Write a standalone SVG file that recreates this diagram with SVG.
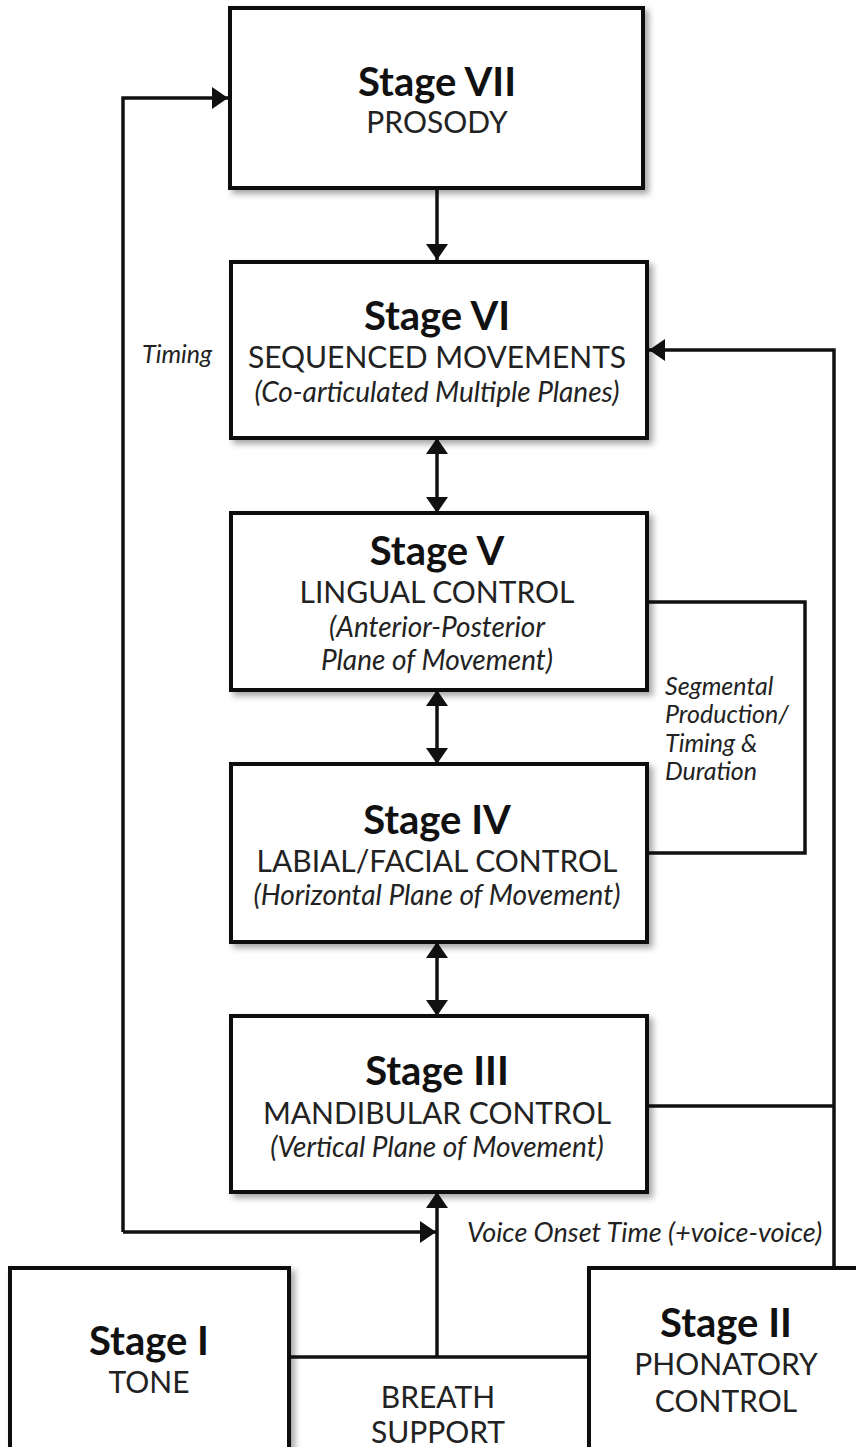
<svg xmlns="http://www.w3.org/2000/svg" width="856" height="1447" viewBox="0 0 856 1447">
<defs>
<filter id="sh" x="-10%" y="-10%" width="130%" height="130%">
<feDropShadow dx="4" dy="4" stdDeviation="3" flood-color="#000" flood-opacity="0.35"/>
</filter>
<marker id="ah" viewBox="0 0 16 22" refX="16" refY="11" markerWidth="16" markerHeight="22" markerUnits="userSpaceOnUse" orient="auto-start-reverse">
<path d="M0,0 L16,11 L0,22 Z" fill="#111"/>
</marker>
<style>
.box{fill:#fff;stroke:#111;stroke-width:4;filter:url(#sh)}
.ln{fill:none;stroke:#111;stroke-width:3.5}
text{font-family:Lato,"Open Sans",sans-serif;fill:#222;text-anchor:middle}
.t{font-weight:bold;font-size:40px;fill:#111}
.s{font-size:30px}
.i{font-size:28px;font-style:italic}
.n{font-size:25px;font-style:italic;text-anchor:start}
.v{font-size:27px;font-style:italic;text-anchor:start}
</style>
</defs>
<g id="connectors">
<path class="ln" d="M437,188 L437,260" marker-end="url(#ah)"/>
<path class="ln" d="M437,438 L437,513" marker-start="url(#ah)" marker-end="url(#ah)"/>
<path class="ln" d="M437,690 L437,764" marker-start="url(#ah)" marker-end="url(#ah)"/>
<path class="ln" d="M437,942 L437,1016" marker-start="url(#ah)" marker-end="url(#ah)"/>
<path class="ln" d="M123,1232 L123,98 L228,98" marker-end="url(#ah)"/>
<path class="ln" d="M123,1232 L436,1232" marker-end="url(#ah)"/>
<path class="ln" d="M437,1357 L437,1192" marker-end="url(#ah)"/>
<path class="ln" d="M289,1357 L589,1357"/>
<path class="ln" d="M834,1268 L834,350 L649,350" marker-end="url(#ah)"/>
<path class="ln" d="M647,1106 L834,1106"/>
<path class="ln" d="M647,602 L805,602 L805,853 L647,853"/>
<text class="n" x="142" y="363">Timing</text>
<text class="v" x="467" y="1242">Voice Onset Time (+voice-voice)</text>
<text class="n" x="665" y="695">Segmental</text>
<text class="n" x="665" y="723">Production/</text>
<text class="n" x="665" y="752">Timing &amp;</text>
<text class="n" x="665" y="780">Duration</text>
<text class="s" x="438" y="1408">BREATH</text>
<text class="s" x="438" y="1443">SUPPORT</text>
</g>
<g id="stage7">
<rect class="box" x="230" y="8" width="413" height="180"/>
<text class="t" x="437" y="96">Stage VII</text>
<text class="s" x="437" y="133">PROSODY</text>
</g>
<g id="stage6">
<rect class="box" x="231" y="262" width="416" height="176"/>
<text class="t" x="437" y="330">Stage VI</text>
<text class="s" x="437" y="368">SEQUENCED MOVEMENTS</text>
<text class="i" x="437" y="402">(Co-articulated Multiple Planes)</text>
</g>
<g id="stage5">
<rect class="box" x="231" y="513" width="416" height="177"/>
<text class="t" x="437" y="565">Stage V</text>
<text class="s" x="437" y="603">LINGUAL CONTROL</text>
<text class="i" x="437" y="637">(Anterior-Posterior</text>
<text class="i" x="437" y="670">Plane of Movement)</text>
</g>
<g id="stage4">
<rect class="box" x="231" y="764" width="416" height="178"/>
<text class="t" x="437" y="834">Stage IV</text>
<text class="s" x="437" y="872">LABIAL/FACIAL CONTROL</text>
<text class="i" x="437" y="905">(Horizontal Plane of Movement)</text>
</g>
<g id="stage3">
<rect class="box" x="231" y="1016" width="416" height="176"/>
<text class="t" x="437" y="1085">Stage III</text>
<text class="s" x="437" y="1124">MANDIBULAR CONTROL</text>
<text class="i" x="437" y="1157">(Vertical Plane of Movement)</text>
</g>
<g id="stage1">
<rect class="box" x="10" y="1268" width="279" height="200"/>
<text class="t" x="149" y="1355">Stage I</text>
<text class="s" x="149" y="1393">TONE</text>
</g>
<g id="stage2">
<rect class="box" x="589" y="1268" width="290" height="200"/>
<text class="t" x="726" y="1337">Stage II</text>
<text class="s" x="726" y="1375">PHONATORY</text>
<text class="s" x="726" y="1412">CONTROL</text>
</g>
</svg>
